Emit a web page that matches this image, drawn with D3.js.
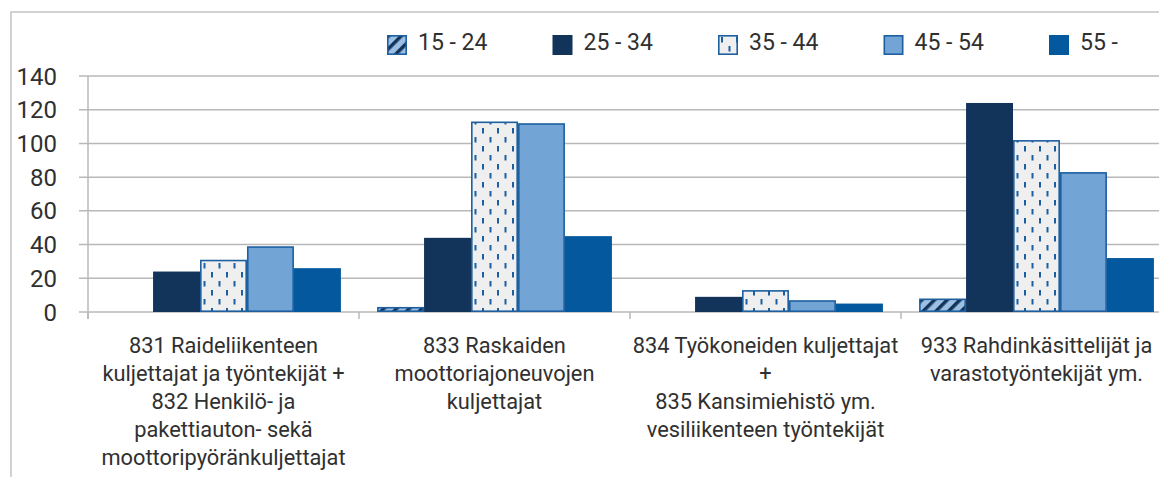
<!DOCTYPE html>
<html>
<head>
<meta charset="utf-8">
<script src="https://cdn.jsdelivr.net/npm/d3@7"></script>
<style>
html,body{margin:0;padding:0;background:#fff;overflow:hidden;}
svg{display:block;font-family:Roboto,"Open Sans",sans-serif;}
</style>
</head>
<body>
<svg id="chart" width="1159" height="477"></svg>
<script>
const categories = [
  "831 Raideliikenteen\nkuljettajat ja työntekijät +\n832 Henkilö- ja\npakettiauton- sekä\nmoottoripyöränkuljettajat",
  "833 Raskaiden\nmoottoriajoneuvojen\nkuljettajat",
  "834 Työkoneiden kuljettajat\n+\n835 Kansimiehistö ym.\nvesiliikenteen työntekijät",
  "933 Rahdinkäsittelijät ja\nvarastotyöntekijät ym."
];
const seriesNames = ["15 - 24", "25 - 34", "35 - 44", "45 - 54", "55 -"];
const s15_24 = [0, 3, 0, 8];
const s25_34 = [24, 44, 9, 124];
const s35_44 = [31, 113, 13, 102];
const s45_54 = [39, 112, 7, 83];
const s55 = [26, 45, 5, 32];
const yTicks = [0, 20, 40, 60, 80, 100, 120, 140];

const seriesValues = [s15_24, s25_34, s35_44, s45_54, s55];

const svg = d3.select("#chart");
const defs = svg.append("defs");

// pattern: diagonal stripes (15-24)
const p1 = defs.append("pattern").attr("id","diag").attr("patternUnits","userSpaceOnUse")
  .attr("width",9).attr("height",9).attr("patternTransform","rotate(45)");
p1.append("rect").attr("width",9).attr("height",9).attr("fill","#9cbfe4");
p1.append("rect").attr("x",0).attr("width",3.5).attr("height",9).attr("fill","#12345a");

// pattern: vertical dashes (35-44)
const p2 = defs.append("pattern").attr("id","dash").attr("patternUnits","userSpaceOnUse")
  .attr("width",15).attr("height",18);
p2.append("rect").attr("width",15).attr("height",18).attr("fill","#efefef");
p2.append("rect").attr("x",3).attr("y",2).attr("width",2).attr("height",5.5).attr("fill","#1b5fa2");
p2.append("rect").attr("x",10.5).attr("y",11).attr("width",2).attr("height",5.5).attr("fill","#1b5fa2");

const styles = [
  {fill:"url(#diag)", stroke:"#1d5f9f", sw:1.6},
  {fill:"#12345a", stroke:"none", sw:0},
  {fill:"url(#dash)", stroke:"#1d5f9f", sw:1.6},
  {fill:"#72a4d6", stroke:"#1d5f9f", sw:1.6},
  {fill:"#04589e", stroke:"none", sw:0}
];

const textColor = "#303030";
const gridColor = "#b8b8b8";

// outer frame
svg.append("rect").attr("x",11).attr("y",12).attr("width",1200).attr("height",520)
  .attr("fill","none").attr("stroke","#c4c4c4").attr("stroke-width",1.5);

const x0 = d3.scaleBand().domain(d3.range(categories.length)).range([88, 1172]).paddingInner(0).paddingOuter(0);
const x1 = d3.scaleBand().domain(d3.range(seriesNames.length)).range([0, x0.bandwidth()]).paddingInner(0).paddingOuter(0.385);
const y = d3.scaleLinear().domain([0, 140]).range([312, 76]);

// gridlines
svg.append("g").selectAll("line").data(yTicks).join("line")
  .attr("x1",79).attr("x2",1172)
  .attr("y1",d=>y(d)).attr("y2",d=>y(d))
  .attr("stroke",gridColor).attr("stroke-width",1.5);

// y axis line
svg.append("line").attr("x1",88).attr("x2",88).attr("y1",y(140)).attr("y2",y(0)+7)
  .attr("stroke",gridColor).attr("stroke-width",1.5);

// category ticks
svg.append("g").selectAll("line").data(d3.range(categories.length+1)).join("line")
  .attr("x1",d=> d<categories.length ? x0(d) : x0(d-1)+x0.bandwidth())
  .attr("x2",d=> d<categories.length ? x0(d) : x0(d-1)+x0.bandwidth())
  .attr("y1",y(0)).attr("y2",y(0)+7)
  .attr("stroke",gridColor).attr("stroke-width",1.5);

// y tick labels
svg.append("g").selectAll("text").data(yTicks).join("text")
  .attr("x",57).attr("y",d=>y(d)).attr("dy","0.36em")
  .attr("text-anchor","end").attr("font-size",24).attr("fill",textColor)
  .text(d=>d);

// bars
const groups = svg.append("g").selectAll("g").data(categories).join("g")
  .attr("transform",(d,i)=>`translate(${x0(i)},0)`);
groups.each(function(c, ci){
  const g = d3.select(this);
  seriesValues.forEach((vals, si)=>{
    const v = vals[ci];
    if (v <= 0) return;
    const st = styles[si];
    const inset = st.sw/2;
    g.append("rect")
      .attr("x", x1(si) + inset)
      .attr("y", y(v) + inset)
      .attr("width", x1.bandwidth() - 2*inset)
      .attr("height", Math.max(0, y(0) - y(v) - 2*inset))
      .attr("fill", st.fill)
      .attr("stroke", st.stroke)
      .attr("stroke-width", st.sw);
  });
});

// category labels
const lab = svg.append("g").selectAll("text").data(categories).join("text")
  .attr("text-anchor","middle").attr("font-size",21.8).attr("fill",textColor);
lab.each(function(d,i){
  const t = d3.select(this);
  d.split("\n").forEach((line, li)=>{
    t.append("tspan").attr("x", x0(i)+x0.bandwidth()/2).attr("y", 353 + li*28).text(line);
  });
});

// legend
const legX = d3.scaleLinear().domain([0, seriesNames.length-1]).range([387, 1049]);
const leg = svg.append("g").selectAll("g").data(seriesNames).join("g")
  .attr("transform",(d,i)=>`translate(${legX(i)},35)`);
leg.append("rect")
  .attr("x",(d,i)=>styles[i].sw/2)
  .attr("y",(d,i)=>styles[i].sw/2)
  .attr("width",(d,i)=>20-styles[i].sw)
  .attr("height",(d,i)=>20-styles[i].sw)
  .attr("fill",(d,i)=>styles[i].fill)
  .attr("stroke",(d,i)=>styles[i].stroke)
  .attr("stroke-width",(d,i)=>styles[i].sw);
leg.append("text").attr("x",31).attr("y",14.5)
  .attr("font-size",23).attr("fill",textColor).text(d=>d);
</script>
</body>
</html>
